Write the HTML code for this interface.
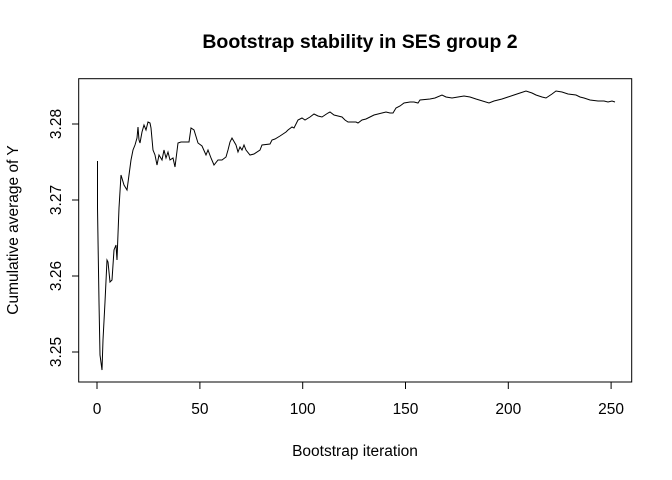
<!DOCTYPE html>
<html><head><style>body{margin:0;background:#fff}svg{display:block}</style></head>
<body>
<svg width="672" height="480" xmlns="http://www.w3.org/2000/svg" font-family="Liberation Sans, Arial, sans-serif">
<rect width="672" height="480" fill="#fff"/>
<text x="360" y="48" text-anchor="middle" font-size="19.5" font-weight="bold">Bootstrap stability in SES group 2</text>
<rect x="78.7" y="78.7" width="553" height="303.3" fill="none" stroke="#000" stroke-width="1"/>
<g stroke="#000" stroke-width="1">
<line x1="97" y1="382" x2="97" y2="389"/>
<line x1="199.9" y1="382" x2="199.9" y2="389"/>
<line x1="302.7" y1="382" x2="302.7" y2="389"/>
<line x1="405.5" y1="382" x2="405.5" y2="389"/>
<line x1="508.3" y1="382" x2="508.3" y2="389"/>
<line x1="611.1" y1="382" x2="611.1" y2="389"/>
<line x1="72" y1="352" x2="78.7" y2="352"/>
<line x1="72" y1="276" x2="78.7" y2="276"/>
<line x1="72" y1="200" x2="78.7" y2="200"/>
<line x1="72" y1="124" x2="78.7" y2="124"/>
</g>
<g font-size="15.5" text-anchor="middle">
<text x="97" y="414">0</text><text x="199.9" y="414">50</text><text x="302.7" y="414">100</text>
<text x="405.5" y="414">150</text><text x="508.3" y="414">200</text><text x="611.1" y="414">250</text>
<text x="355" y="456">Bootstrap iteration</text>
<text transform="translate(61,352) rotate(-90)">3.25</text>
<text transform="translate(61,276) rotate(-90)">3.26</text>
<text transform="translate(61,200) rotate(-90)">3.27</text>
<text transform="translate(61,124) rotate(-90)">3.28</text>
<text transform="translate(18,230) rotate(-90)">Cumulative average of Y</text>
</g>
<polyline fill="none" stroke="#000" stroke-width="1" points="97.5,161 97.5,208 99,302 100,355 102,370 103,340 105,302 107,260 108,262 110,282 112,280 114,250 116,245 117,260 119,208 121,175 124,185 127,190 129,175 131,160 133,150 135,145 137,138 138,127 139,140 140,143 142,132 144,125 146,130 148,122 150,123 151,128 153,150 155,155 157,165 159,155 162,160 164,150 166,158 168,152 170,160 173,158 175,167 178,143 181,142 189,142 191,128 194,130 198,143 202,146 206,155 208,150 211,158 214,165 218,160 222,160 226,157 228,150 230,142 232,138 236,145 238,152 240,147 242,150 244,145 246,150 250,155 254,154 260,150 262,145 270,144 272,140 275,139 280,136 286,132 288,130 292,127 294,128 298,120 302,118 305,120 310,117 314,114 318,116 322,117 325,115 328,113 330,112 334,115 338,116 342,117 345,120 348,122 352,122 356,122 358,123 362,120 366,119 370,117 374,115 378,114 382,113 386,112 390,113 393,113 396,108 400,106 404,103 410,102 414,102 418,103 420,100 430,99 435,98 442,95 446,97 452,98 458,97 464,96 470,97 476,99 489,103 494,101 502,99 508,97 514,95 520,93 526,91 532,93 536,95 542,97 546,98 552,94 556,91 562,92 568,94 576,95 580,97 584,98 590,100 598,101 604,101 608,102 612,101 615,102"/>
</svg>
</body></html>
